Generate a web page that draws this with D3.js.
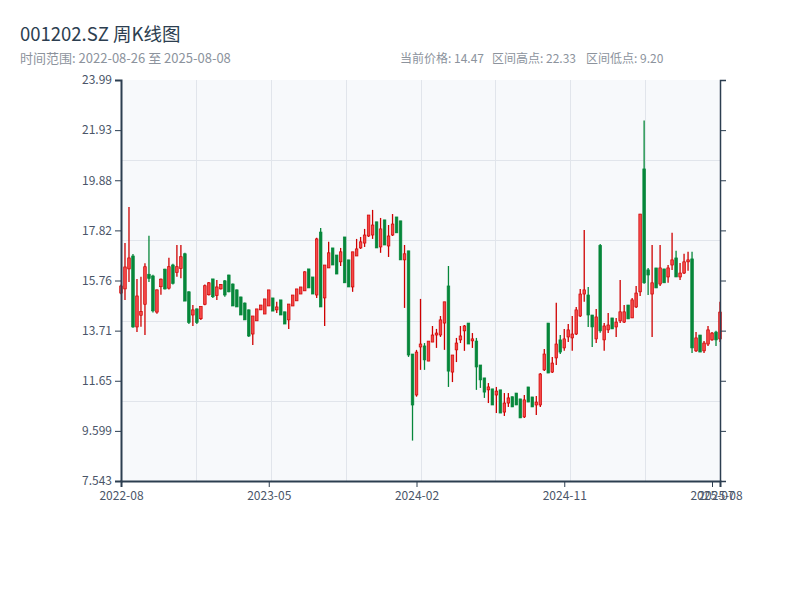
<!DOCTYPE html>
<html><head><meta charset="utf-8">
<script src="https://cdn.jsdelivr.net/npm/d3@7/dist/d3.min.js"></script>
<style>
body{margin:0;background:#fff;}
text{font-family:"Noto Sans CJK SC","Noto Sans",sans-serif;}
</style></head>
<body><svg id="c" width="800" height="600"></svg>
<script>
const dates = [
"2022-08-26","2022-09-02","2022-09-09","2022-09-16","2022-09-23","2022-09-30","2022-10-14","2022-10-21","2022-10-28","2022-11-04",
"2022-11-11","2022-11-18","2022-11-25","2022-12-02","2022-12-09","2022-12-16","2022-12-23","2022-12-30","2023-01-06","2023-01-13",
"2023-01-20","2023-02-03","2023-02-10","2023-02-17","2023-02-24","2023-03-03","2023-03-10","2023-03-17","2023-03-24","2023-03-31",
"2023-04-07","2023-04-14","2023-04-21","2023-04-28","2023-05-05","2023-05-12","2023-05-19","2023-05-26","2023-06-02","2023-06-09",
"2023-06-16","2023-06-23","2023-06-30","2023-07-07","2023-07-14","2023-07-21","2023-07-28","2023-08-04","2023-08-11","2023-08-18",
"2023-08-25","2023-09-01","2023-09-08","2023-09-15","2023-09-22","2023-09-29","2023-10-13","2023-10-20","2023-10-27","2023-11-03",
"2023-11-10","2023-11-17","2023-11-24","2023-12-01","2023-12-08","2023-12-15","2023-12-22","2023-12-29","2024-01-05","2024-01-12",
"2024-01-19","2024-01-26","2024-02-02","2024-02-09","2024-02-23","2024-03-01","2024-03-08","2024-03-15","2024-03-22","2024-03-29",
"2024-04-05","2024-04-12","2024-04-19","2024-04-26","2024-05-03","2024-05-10","2024-05-17","2024-05-24","2024-05-31","2024-06-07",
"2024-06-14","2024-06-21","2024-06-28","2024-07-05","2024-07-12","2024-07-19","2024-07-26","2024-08-02","2024-08-09","2024-08-16",
"2024-08-23","2024-08-30","2024-09-06","2024-09-13","2024-09-20","2024-09-27","2024-10-04","2024-10-11","2024-10-18","2024-10-25",
"2024-11-01","2024-11-08","2024-11-15","2024-11-22","2024-11-29","2024-12-06","2024-12-13","2024-12-20","2024-12-27","2025-01-03",
"2025-01-10","2025-01-17","2025-01-24","2025-01-31","2025-02-07","2025-02-14","2025-02-21","2025-02-28","2025-03-07","2025-03-14",
"2025-03-21","2025-03-28","2025-04-04","2025-04-11","2025-04-18","2025-04-25","2025-05-02","2025-05-09","2025-05-16","2025-05-23",
"2025-05-30","2025-06-06","2025-06-13","2025-06-20","2025-06-27","2025-07-04","2025-07-11","2025-07-18","2025-07-25","2025-08-01",
"2025-08-08"
];
const open = [
15.25,15.42,16.24,16.77,13.86,14.34,14.79,16.02,15.95,14.47,15.51,16.23,15.45,16.40,16.10,16.26,16.86,15.30,14.35,14.60,
14.20,14.79,15.18,15.83,15.15,15.42,15.75,15.99,15.62,15.38,15.09,14.84,14.56,13.57,14.11,14.56,14.39,14.72,15.05,14.56,
14.97,14.48,14.15,14.72,14.93,15.21,15.34,16.24,15.91,15.17,17.75,15.05,16.28,17.10,16.81,16.53,17.55,16.61,15.50,16.77,
17.10,17.30,17.59,17.63,18.17,17.14,18.25,17.18,17.63,18.37,18.21,16.61,16.98,12.75,11.07,13.04,13.08,12.46,13.24,13.53,
13.53,14.02,15.54,12.01,12.92,13.33,13.70,14.02,13.29,13.28,12.30,11.77,11.28,11.32,11.07,11.28,10.37,10.74,11.00,11.15,
10.91,10.17,11.40,10.99,10.66,10.66,12.10,14.02,12.01,12.59,13.33,13.00,13.45,13.41,13.57,14.31,15.21,15.17,14.35,13.37,
17.20,13.33,13.74,14.23,13.86,14.11,14.06,14.76,14.23,14.68,15.30,20.34,16.20,15.21,16.28,15.62,16.24,15.91,16.40,16.69,
15.91,16.07,16.53,16.65,12.88,13.53,12.88,13.16,13.33,13.65,13.37
];
const high = [
15.60,17.30,18.78,16.85,15.83,15.92,16.47,17.60,16.00,15.40,15.85,16.25,16.70,16.45,17.22,17.22,16.90,15.32,14.76,14.62,
14.70,15.60,15.70,15.83,15.79,15.62,15.79,16.00,15.64,15.40,15.10,14.86,14.58,14.31,14.60,14.76,15.01,15.38,15.05,14.89,
14.97,14.48,14.80,15.17,15.42,15.50,16.14,16.24,15.91,17.52,17.92,16.40,17.35,17.10,16.81,17.10,17.55,16.61,16.94,17.47,
17.55,17.88,18.45,18.66,18.17,18.33,18.25,18.04,18.49,18.37,18.21,17.22,16.98,12.75,12.92,15.01,13.20,13.28,13.90,13.78,
14.31,14.89,16.36,12.71,13.41,13.90,13.94,14.02,13.61,13.41,12.30,11.77,11.56,11.32,11.40,11.28,11.15,11.15,11.00,11.15,
10.91,11.07,11.40,10.99,11.03,11.97,12.96,14.02,12.63,14.85,13.53,13.78,13.98,14.31,14.68,15.42,17.84,15.50,14.35,14.60,
17.26,14.02,14.43,14.23,14.23,15.79,14.76,14.76,15.05,15.54,18.49,22.33,16.28,17.22,16.28,17.22,16.24,16.40,17.72,16.98,
16.48,16.86,16.94,16.94,13.65,13.53,13.28,13.90,13.65,13.70,14.89
];
const low = [
15.20,14.97,15.70,13.83,13.65,13.87,13.53,15.70,14.45,14.40,15.18,15.40,15.40,15.60,15.92,15.86,14.92,13.98,13.90,13.98,
14.15,14.75,15.15,15.05,14.97,15.40,15.10,15.28,14.72,14.68,14.35,14.15,13.45,13.12,14.11,14.56,14.39,14.72,14.51,14.43,
14.35,13.98,13.78,14.72,14.93,15.21,15.34,15.46,15.21,15.05,14.68,13.90,16.28,16.40,16.03,16.36,15.67,15.50,15.30,16.77,
17.06,17.14,17.55,17.47,17.10,16.90,17.22,16.73,17.59,17.72,16.61,14.64,12.63,9.20,11.00,12.10,12.10,12.46,13.24,13.00,
13.45,12.92,11.40,11.60,12.42,13.20,12.88,13.16,13.00,11.28,11.36,10.95,10.74,10.66,10.33,10.33,10.21,10.58,10.58,10.66,
10.13,10.13,10.78,10.58,10.25,10.58,12.05,11.97,11.97,12.30,12.75,12.88,13.24,12.88,13.53,14.27,14.89,13.86,13.04,13.20,
13.62,12.88,13.61,13.78,13.45,14.02,14.02,14.19,14.23,14.64,15.13,15.63,15.17,13.45,15.46,15.54,15.67,15.67,16.20,15.91,
15.79,16.03,16.16,12.79,12.83,12.83,12.79,13.08,13.29,13.08,13.24
];
const close = [
15.54,16.32,16.69,13.86,15.13,14.49,16.33,15.85,14.52,15.38,15.82,15.42,16.33,15.65,16.33,16.74,14.92,14.05,14.56,14.05,
14.70,15.55,15.67,15.10,15.50,15.60,15.17,15.30,14.72,14.68,14.35,14.15,13.49,14.31,14.60,14.76,15.01,15.38,14.51,14.68,
14.35,13.98,14.80,15.17,15.42,15.50,16.12,15.46,15.21,17.47,14.68,16.40,16.90,16.40,16.03,16.94,15.67,15.50,16.94,17.06,
17.35,17.63,18.45,18.04,17.10,17.88,17.22,17.59,18.08,17.72,16.61,16.86,12.71,10.66,12.83,13.16,12.51,13.28,13.53,13.61,
14.15,14.89,12.05,12.71,13.20,13.49,13.90,13.16,13.37,12.22,11.69,11.19,11.40,10.66,11.23,10.33,10.74,10.95,10.58,10.66,
10.13,10.87,10.78,10.58,10.78,11.93,12.75,11.97,12.38,13.16,12.83,13.37,13.74,13.57,14.56,15.21,15.38,14.35,13.86,14.27,
13.70,13.90,13.94,13.78,14.06,14.48,14.48,14.19,14.97,15.25,18.49,15.67,15.99,15.67,15.46,16.28,15.67,16.28,16.61,15.91,
16.07,16.53,16.61,13.00,13.41,12.83,13.20,13.74,13.61,13.33,14.47
];
const yTickDomain = [7.5432, 23.9864];
const titleText = "001202.SZ 周K线图";
const rangeText = "时间范围: 2022-08-26 至 2025-08-08";
const statLabels = ["当前价格: 14.47", "区间高点: 22.33", "区间低点: 9.20"];

const svg = d3.select("#c");
const W = 800, Hh = 600;
const m = {l:121, r:80, t:80, b:119};
const iw = W - m.l - m.r, ih = Hh - m.t - m.b;
const n = close.length;
const dts = dates.slice(0, n);

const data = d3.range(n).map(i => ({d: dts[i], o: open[i], h: high[i], l: low[i], c: close[i], i}));

const x = d3.scalePoint().domain(dts).range([0, iw]).padding(0);
const xi = d3.scaleLinear().domain([0, n-1]).range([0, iw]);
const y = d3.scaleLinear().domain(yTickDomain).range([ih, 0]);

svg.append("rect").attr("width", W).attr("height", Hh).attr("fill", "#fff");
svg.append("text").attr("x", 20).attr("y", 41).attr("font-size", 18.5).attr("fill", "#2c3e50").text(titleText);
svg.append("text").attr("x", 20).attr("y", 63).attr("font-size", 13).attr("fill", "#8c939d").text(rangeText);
const statX = [400, 492, 586];
statLabels.forEach((s, k) => svg.append("text").attr("x", statX[k]).attr("y", 63).attr("font-size", 12).attr("fill", "#8c939d").text(s));

const g = svg.append("g").attr("transform", `translate(${m.l},${m.t})`);
g.append("rect").attr("width", iw).attr("height", ih).attr("fill", "#f7f9fb");

// grid
const gy = d3.range(1, 5).map(k => yTickDomain[0] + k * (yTickDomain[1] - yTickDomain[0]) / 5);
g.selectAll(".gy").data(gy).join("line").attr("x1", 0).attr("x2", iw)
  .attr("y1", d => Math.round(y(d)) + 0.5).attr("y2", d => Math.round(y(d)) + 0.5)
  .attr("stroke", "#e1e5eb").attr("stroke-width", 1);
const gx = d3.range(1, 8).map(k => k * (n - 1) / 8);
g.selectAll(".gx").data(gx).join("line").attr("y1", 0).attr("y2", ih)
  .attr("x1", d => Math.round(xi(d)) + 0.5).attr("x2", d => Math.round(xi(d)) + 0.5)
  .attr("stroke", "#e1e5eb").attr("stroke-width", 1);

// candles
const up = "#cf0000", upFill = "#f44848", down = "#06873a";
const bw = 2.6;
const cg = g.append("g");
data.forEach(d => {
  const isUp = d.c >= d.o;
  const cx = x(d.d);
  cg.append("line").attr("x1", cx).attr("x2", cx).attr("y1", y(d.h)).attr("y2", y(d.l))
    .attr("stroke", isUp ? up : down).attr("stroke-width", 1.3);
  const top = y(Math.max(d.o, d.c)), bot = y(Math.min(d.o, d.c));
  cg.append("rect").attr("x", cx - bw/2).attr("width", bw)
    .attr("y", top).attr("height", Math.max(1, bot - top))
    .attr("fill", isUp ? upFill : down).attr("stroke", isUp ? up : down).attr("stroke-width", 0.7);
});

// axes
const yTicks = d3.range(9).map(k => yTickDomain[0] + k * (yTickDomain[1] - yTickDomain[0]) / 8);
const xTicks = dts.filter((d, i) => i % 37 === 0 || i === n - 1);
const axisColor = "#2c3e50";
const ya = g.append("g").call(d3.axisLeft(y).tickValues(yTicks).tickFormat(d3.format(".4")).tickSize(6).tickPadding(3));
const yr = g.append("g").attr("transform", `translate(${iw},0)`).call(d3.axisRight(y).tickValues(yTicks).tickFormat("").tickSize(6));
const xa = g.append("g").attr("transform", `translate(0,${ih})`).call(d3.axisBottom(x).tickValues(xTicks).tickFormat(d => d.slice(0, 7)).tickSize(6).tickPadding(4));
[ya, yr, xa].forEach(a => {
  a.select(".domain").attr("stroke", axisColor).attr("stroke-width", 2);
  a.selectAll(".tick line").attr("stroke", axisColor);
  a.selectAll(".tick text").attr("fill", "#4a5568").attr("font-size", 12).attr("font-family", '"Noto Sans CJK SC","Noto Sans",sans-serif');
});
yr.select(".domain").attr("stroke-width", 1.5);
</script></body></html>
